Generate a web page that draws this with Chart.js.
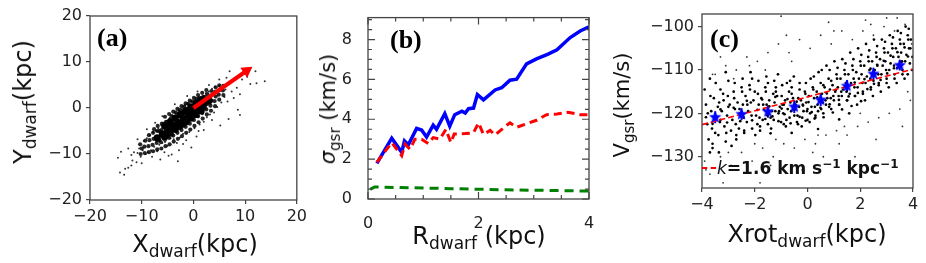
<!DOCTYPE html>
<html>
<head>
<meta charset="utf-8">
<script src="https://cdn.jsdelivr.net/npm/chart.js@4.4.1/dist/chart.umd.min.js"></script>
<style>
body{margin:0;background:#fff;font-family:"DejaVu Sans",sans-serif}
#fig{position:relative;width:926px;height:263px;overflow:hidden}
canvas{position:absolute;top:0}
.lab{position:absolute;font-size:24px;color:#111;white-space:nowrap;transform:translate(-50%,-50%)}
.lab sub{font-size:17px;vertical-align:-5px;line-height:0}
.sm{font-size:21px}
.sm sub{font-size:15px}
.rot{transform:translate(-50%,-50%) rotate(-90deg)}
.pan{position:absolute;font-family:"Liberation Serif",serif;font-weight:bold;font-size:26px;color:#000;line-height:1}
#leg{position:absolute;left:717px;top:168px;transform:translateY(-50%);font-size:17px;color:#111;white-space:nowrap}
#leg sup{font-size:12px;vertical-align:6px;line-height:0}
#legline{position:absolute;left:702px;top:167px;width:14px;border-top:2px dashed #ff0000}
</style>
</head>
<body>
<div id="fig">
  <canvas id="ca" width="310" height="263" style="left:0"></canvas>
  <canvas id="cb" width="300" height="263" style="left:310px"></canvas>
  <canvas id="cc" width="316" height="263" style="left:610px"></canvas>

  <div class="lab rot" style="left:23px;top:102px">Y<sub>dwarf</sub>(kpc)</div>
  <div class="lab" style="left:195px;top:244px">X<sub>dwarf</sub>(kpc)</div>
  <div class="lab sm rot" style="left:328px;top:109px"><i>σ</i><sub>gsr</sub> (km/s)</div>
  <div class="lab" style="left:479px;top:236px">R<sub>dwarf</sub> (kpc)</div>
  <div class="lab sm rot" style="left:622px;top:105px">V<sub>gsr</sub>(km/s)</div>
  <div class="lab" style="left:807px;top:234px">Xrot<sub>dwarf</sub>(kpc)</div>

  <div class="pan" style="left:97px;top:25px">(a)</div>
  <div class="pan" style="left:390px;top:27px">(b)</div>
  <div class="pan" style="left:710px;top:26px">(c)</div>

  <div id="legline"></div>
  <div id="leg"><i style="font-weight:normal">k</i><b>=1.6 km s<sup>−1</sup> kpc<sup>−1</sup></b></div>
</div>

<script>
// ---- panel (a): stars of the dwarf in the x-y plane ----
const denseA = [[-6,-5.6],[-5,-4.8],[-4,-4],[-3,-3.2],[-2,-2.4],[-1,-1.6],[0,-0.8],[1,0],[2,0.8],[3,1.6],
  [-4.5,-5.4],[-3.5,-4.6],[-2.5,-3.8],[-1.5,-3],[-0.5,-2.2],[0.5,-1.4],[1.5,-0.6],
  [-4.5,-3],[-3.5,-2.2],[-2.5,-1.4],[-1.5,-0.6],[-0.5,0.2],[0.5,1],[1.5,1.8],[-7,-6.5],[-5.5,-6.2],[-5.5,-3.8]];
const coreA = [[-10.2,-10.0],[-10.0,-8.8],[-10.3,-7.9],[-9.4,-9.8],[-9.5,-8.4],[-9.3,-7.1],
  [-8.6,-9.6],[-8.7,-8.3],[-8.5,-7.0],[-8.6,-5.9],[-7.8,-9.4],[-7.9,-8.0],[-7.7,-6.7],[-7.8,-5.4],[-7.6,-4.6],
  [-7.0,-9.0],[-7.1,-7.6],[-6.9,-6.3],[-7.0,-5.0],[-6.9,-3.9],[-6.2,-8.8],[-6.3,-7.4],[-6.1,-6.1],[-6.2,-4.8],[-6.1,-3.4],
  [-5.4,-8.3],[-5.5,-6.9],[-5.3,-5.6],[-5.4,-4.3],[-5.3,-3.0],[-5.5,-1.9],
  [-4.6,-7.9],[-4.7,-6.5],[-4.5,-5.2],[-4.6,-3.9],[-4.5,-2.6],[-4.7,-1.3],
  [-3.8,-7.3],[-3.9,-6.0],[-3.7,-4.7],[-3.8,-3.4],[-3.7,-2.1],[-3.9,-0.8],
  [-3.0,-6.7],[-3.1,-5.4],[-2.9,-4.1],[-3.0,-2.8],[-2.9,-1.5],[-3.1,-0.2],
  [-2.2,-6.1],[-2.3,-4.8],[-2.1,-3.5],[-2.2,-2.2],[-2.1,-0.9],[-2.3,0.4],
  [-1.4,-5.4],[-1.5,-4.1],[-1.3,-2.8],[-1.4,-1.5],[-1.3,-0.2],[-1.5,1.0],
  [-0.6,-4.7],[-0.7,-3.4],[-0.5,-2.1],[-0.6,-0.8],[-0.5,0.5],[-0.7,1.6],
  [0.2,-3.9],[0.1,-2.6],[0.3,-1.3],[0.2,0.0],[0.3,1.2],[0.1,2.2],
  [1.0,-3.1],[0.9,-1.8],[1.1,-0.6],[1.0,0.6],[1.1,1.8],[0.9,2.8],
  [1.8,-2.3],[1.7,-1.1],[1.9,0.1],[1.8,1.3],[1.9,2.4],[1.7,3.3],
  [2.6,-1.4],[2.5,-0.3],[2.7,0.9],[2.6,2.0],[2.7,3.0],[2.5,3.9],
  [3.4,-0.6],[3.3,0.5],[3.5,1.6],[3.4,2.7],[3.5,3.7],[4.2,0.4],[4.1,1.5],[4.3,2.5],[4.2,3.5],[4.3,4.5],
  [5.0,1.8],[4.9,2.9],[5.1,3.9],[5.0,4.9],[5.8,2.8],[5.7,3.8],[5.9,4.8],
  [-4.2,-5.8],[-4.2,-3.2],[-4.2,-1.8],[-3.4,-5.0],[-3.4,-2.4],[-3.4,-1.0],[-2.6,-4.4],[-2.6,-1.8],[-2.6,-0.4],
  [-1.8,-3.8],[-1.8,-1.2],[-1.8,0.3],[-1.0,-3.0],[-1.0,-0.6],[-1.0,0.9],[-0.2,-2.4],[-0.2,0.1],[-0.2,1.4],
  [0.6,-1.6],[0.6,0.8],[0.6,2.0],[1.4,-0.8],[1.4,1.4],[2.2,0.0],[2.2,2.4],[-5.0,-6.2],[-5.0,-3.6],
  [-5.8,-6.6],[-5.8,-4.2],[-6.6,-7.0],[-6.6,-5.0]];
const haloA = [[-14.2,-14],[-13.4,-14.5],[-13.2,-13.2],[-14,-9.5],[-12,-12.5],[-11.8,-11.4],[-12,-10.2],[-11.5,-9.6],
  [-11,-11.8],[-10.8,-9.8],[-10.5,-8.8],[-10.2,-10.6],[-10,-12.0],[-9.8,-9.2],[-9.6,-7.2],[-9.2,-10],[-9,-6.6],
  [-8.8,-9.6],[-8.4,-5.8],[-8.2,-9.2],[-8,-10.6],[-7.8,-5.2],[-7.6,-8.4],[-7.2,-5],[-7,-9.4],[-6.8,-4.4],[-6.6,-8.0],
  [-6.2,-3.8],[-6,-7.6],[-5.8,-3.2],[-5.5,-7.4],[-5.2,-2.8],[-5,-8.2],[-4.6,-2.2],[-4.4,-6.6],[-4.1,-1.6],[-3.8,-6.8],
  [-3.4,-1.2],[-3.2,-7.6],[-2.8,-0.6],[-2.6,-6.4],[-2.2,-0.2],[-2,-5.6],[-1.6,0.6],[-1.4,-7.0],[-1,0.8],[-0.8,-5.2],
  [-0.4,1.4],[0.2,-4.4],[0.4,1.8],[0.6,-6.2],[1,2.4],[1.2,-3.6],[1.6,2.2],[2,-3.0],[2.4,3.2],[2.6,-2.0],[3,3.6],
  [3.2,-1.4],[3.6,4.2],[4,-1.0],[4.2,4.6],[4.6,0.2],[5,4.8],[5.4,1.2],[5.6,5.0],[6,2.4],[6.2,4.0],[6.6,1.4],[7,5.6],
  [7,8],[7.4,3.6],[7.8,2.2],[8,6.2],[8.4,4.4],[9,-1.5],[9,3],[9.4,6.2],[9.8,7.4],[10.4,6.8],[11,5.2],[12,8],
  [12.2,5.4],[13.8,5.8],[8.6,-0.4],[6.8,-2.4],[5.2,-3.8],[2,-4.8],[-0.4,-8.6],[-2.8,-9.2],[-3,-11.6],[-4.2,-10.1],
  [-4.8,-10.4],[-6.4,-11.2],[-12.6,-13],[-14.6,-10.8],[-12.6,-8.8],[-6.0,-1.8],[-7.4,-3.2],[-3.6,0.8],[-1.2,2.6],
  [0.8,3.6],[3.0,5.0],[5.0,6.2],[6.4,6.6],[-9.0,-4.6],[-10.8,-6.8],[1.0,-5.0],[3.6,-2.6],[-2.0,-7.8],[-5.6,-9.6]];
const arrowFrom = [0, 0];
const arrowTo = [10.3, 8.1];
const ticksA = [-20, -10, 0, 10, 20];

// ---- panel (b): velocity dispersion vs radius ----
const blueR   = [0.16,0.43,0.61,0.66,0.73,0.88,0.97,1.06,1.18,1.24,1.39,1.48,1.57,1.70,1.76,1.82,1.91,1.98,2.09,2.30,2.42,2.57,2.69,2.87,3.05,3.26,3.42,3.66,3.84,4.0];
const blueSig = [1.79,3.05,2.34,2.91,2.72,3.54,3.46,3.11,3.70,3.49,4.28,3.65,4.23,4.40,4.31,4.53,4.56,5.24,4.97,5.47,5.58,5.96,6.01,6.78,7.03,7.27,7.49,8.10,8.43,8.64];
const redR    = [0.16,0.43,0.61,0.67,0.76,0.85,0.97,1.09,1.18,1.30,1.41,1.50,1.56,1.76,1.91,2.0,2.09,2.21,2.30,2.51,2.57,2.69,3.05,3.23,3.42,3.62,3.84,4.0];
const redSig  = [1.84,2.83,2.17,2.75,2.50,3.00,3.00,2.78,3.08,3.00,3.49,2.83,3.26,3.28,3.32,3.82,3.24,3.44,3.21,3.70,3.82,3.60,3.95,4.23,4.26,4.35,4.23,4.23];
const greenR   = [0.04,0.12,0.5,1.0,1.5,2.0,2.5,3.0,3.5,4.0];
const greenSig = [0.48,0.60,0.58,0.55,0.52,0.49,0.46,0.44,0.42,0.40];
const ticksBx = [0, 0.5, 1, 1.5, 2, 2.5, 3, 3.5, 4];
const ticksBy = [0, 0.5, 1, 1.5, 2, 2.5, 3, 3.5, 4, 4.5, 5, 5.5, 6, 6.5, 7, 7.5, 8, 8.5, 9];
const majorB = [0, 2, 4, 6, 8];

// ---- panel (c): velocity vs rotated x ----
const coreC = [[-3.85,-118],[-3.8,-122.5],[-3.75,-126],[-3.9,-114.5],[-3.7,-129],[-3.78,-120],
  [-3.55,-116.5],[-3.45,-121],[-3.5,-124.5],[-3.4,-118.5],[-3.6,-127],[-3.48,-113],
  [-3.25,-119.5],[-3.15,-123],[-3.2,-115.5],[-3.1,-126.5],[-3.3,-121.5],[-3.18,-117],
  [-2.95,-118],[-2.85,-121.5],[-2.9,-124],[-2.8,-115],[-3.0,-112.5],[-2.88,-127.5],
  [-2.65,-117.5],[-2.55,-120],[-2.6,-123.5],[-2.5,-114],[-2.7,-125],[-2.58,-119],
  [-2.35,-116],[-2.25,-119.5],[-2.3,-122],[-2.2,-113.5],[-2.4,-124.5],[-2.28,-118],
  [-2.05,-117],[-1.95,-120.5],[-2.0,-115],[-1.9,-122.5],[-2.1,-112],[-1.98,-125],
  [-1.75,-116.5],[-1.65,-119],[-1.7,-121.5],[-1.6,-114],[-1.8,-123],[-1.68,-118],
  [-1.45,-117],[-1.35,-119.5],[-1.4,-121],[-1.3,-115.5],[-1.5,-113],[-1.38,-123.5],
  [-1.15,-116],[-1.05,-118.5],[-1.1,-120],[-1.0,-122],[-1.2,-114],[-1.08,-119.5],[-1.12,-111],
  [-0.85,-117],[-0.75,-119],[-0.8,-121.5],[-0.7,-115],[-0.9,-118],[-0.78,-113],[-0.82,-123],
  [-0.55,-116.5],[-0.45,-118],[-0.5,-120.5],[-0.4,-122],[-0.6,-114],[-0.48,-119],[-0.52,-111.5],
  [-0.25,-117],[-0.15,-119.5],[-0.2,-121],[-0.1,-115],[-0.3,-113],[-0.18,-118],[-0.22,-123],
  [0.05,-116],[0.15,-118.5],[0.1,-120],[0.2,-114],[0.0,-119],[0.12,-112],[0.08,-122],
  [0.35,-115],[0.45,-117],[0.4,-119.5],[0.5,-113],[0.3,-121],[0.42,-110.5],[0.38,-118],
  [0.65,-114],[0.75,-116.5],[0.7,-118],[0.8,-112],[0.6,-120],[0.72,-109],[0.68,-117],
  [0.95,-113.5],[1.05,-115],[1.0,-117],[1.1,-111],[0.9,-119],[1.02,-108],[0.98,-116],
  [1.25,-112],[1.35,-114.5],[1.3,-116],[1.4,-110],[1.2,-118],[1.32,-107.5],[1.28,-115],
  [1.55,-111],[1.65,-113],[1.6,-115.5],[1.7,-109],[1.5,-117],[1.62,-106],[1.58,-120],
  [1.85,-110.5],[1.95,-112],[1.9,-114],[2.0,-108],[1.8,-116],[1.92,-105],[1.88,-118],
  [2.15,-109],[2.25,-111.5],[2.2,-113],[2.3,-107],[2.1,-115],[2.22,-104],[2.18,-117],
  [2.45,-108],[2.55,-110],[2.5,-112.5],[2.6,-106],[2.4,-114],[2.52,-103],[2.48,-116],
  [2.75,-107.5],[2.85,-109],[2.8,-111],[2.9,-105],[2.7,-113],[2.82,-103],[2.78,-115],
  [3.05,-106],[3.15,-108.5],[3.1,-110],[3.2,-104],[3.0,-112],[3.12,-102],[3.08,-114],
  [3.35,-105],[3.45,-107],[3.4,-109.5],[3.5,-103],[3.3,-111],[3.42,-101],[3.38,-113],
  [3.65,-104],[3.75,-106.5],[3.7,-108],[3.8,-102],[3.6,-110],[3.72,-100],[3.68,-112],
  [3.92,-103],[3.98,-107],[3.9,-105],[3.96,-110]];
const coreC2 = [[-3.65,-119.5],[-3.62,-123.5],[-3.68,-116],[-3.6,-128],[-3.7,-112],
  [-3.35,-117.5],[-3.32,-122],[-3.38,-125],[-3.3,-114.5],[-3.36,-129],
  [-3.05,-120.5],[-3.02,-116],[-3.08,-124.5],[-3.0,-118.5],[-3.1,-110.5],
  [-2.75,-119],[-2.72,-122.5],[-2.78,-116.5],[-2.7,-126],[-2.76,-113],
  [-2.45,-118],[-2.42,-121],[-2.48,-115],[-2.4,-124],[-2.46,-112],
  [-2.15,-117.5],[-2.12,-120.5],[-2.18,-114.5],[-2.1,-123.5],[-2.16,-110.5],
  [-1.85,-118],[-1.82,-121],[-1.88,-115.5],[-1.8,-124],[-1.86,-112.5],
  [-1.55,-118],[-1.52,-120.5],[-1.58,-115],[-1.5,-122.5],[-1.56,-111.5],
  [-1.25,-117.5],[-1.22,-119.5],[-1.28,-121.5],[-1.2,-115],[-1.26,-112.5],
  [-0.95,-118],[-0.92,-120],[-0.98,-116],[-0.9,-122.5],[-0.96,-113.5],
  [-0.65,-117.5],[-0.62,-119.5],[-0.68,-121],[-0.6,-115.5],[-0.66,-112.5],
  [-0.35,-116.5],[-0.32,-118.5],[-0.38,-120.5],[-0.3,-114.5],[-0.36,-122.5],
  [-0.05,-117.5],[-0.02,-119.5],[-0.08,-115.5],[0.0,-121.5],[-0.06,-113],
  [0.25,-116.5],[0.28,-118.5],[0.22,-114.5],[0.3,-120.5],[0.24,-111.5],
  [0.55,-115.5],[0.58,-117.5],[0.52,-119],[0.6,-113.5],[0.54,-110],
  [0.85,-114.5],[0.88,-116.5],[0.82,-118.5],[0.9,-112.5],[0.84,-110],
  [1.15,-114],[1.18,-116],[1.12,-112],[1.2,-118],[1.14,-109.5],
  [1.45,-113],[1.48,-115],[1.42,-111],[1.5,-117],[1.44,-108.5],
  [1.75,-112],[1.78,-114],[1.72,-110],[1.8,-116],[1.74,-107.5],
  [2.05,-111],[2.08,-113],[2.02,-109],[2.1,-115.5],[2.04,-106.5],
  [2.35,-110],[2.38,-112],[2.32,-108],[2.4,-114.5],[2.34,-105.5],
  [2.65,-109],[2.68,-111],[2.62,-107],[2.7,-113.5],[2.64,-104.5],
  [2.95,-108],[2.98,-110],[2.92,-106],[3.0,-113],[2.94,-103.5],
  [3.25,-107],[3.28,-109],[3.22,-105],[3.3,-112],[3.24,-102.5],
  [3.55,-106],[3.58,-108],[3.52,-104],[3.6,-111],[3.54,-101.5],
  [3.85,-105],[3.88,-108.5],[3.82,-103],[3.8,-111],[3.84,-100.5]];
const coreC3 = [[-1.9,-119.2],[-1.72,-116.8],[-1.6,-121.3],[-1.45,-118.4],[-1.33,-120.7],[-1.22,-116.2],[-1.1,-121.8],
  [-0.98,-118.9],[-0.87,-120.2],[-0.76,-116.7],[-0.64,-122.3],[-0.53,-119.1],[-0.41,-117.3],[-0.3,-120.8],[-0.17,-118.2],
  [-0.07,-121.7],[0.04,-117.4],[0.16,-119.7],[0.27,-121.2],[0.37,-116.3],[0.49,-118.7],[0.61,-120.9],[0.73,-115.4],
  [0.84,-117.9],[0.96,-119.8],[1.07,-114.6],[1.19,-116.9],[1.31,-119.1],[1.43,-113.8],[1.56,-116.1],[1.67,-118.3],
  [1.79,-112.9],[1.91,-115.3],[2.03,-117.2],[2.16,-112.1],[2.27,-114.4],[2.39,-109.7],[2.52,-113.2],[2.64,-108.8],
  [2.77,-112.3],[2.89,-107.9],[3.02,-110.8],[3.15,-106.7],[3.28,-109.6],[3.41,-105.9],[3.55,-108.2],[3.68,-104.8],
  [3.81,-106.9],[-2.1,-121.6],[-2.3,-117.1],[-2.55,-121.8],[-2.8,-118.7],[-3.05,-122.1],[-3.3,-119.1],[-3.6,-122.4],
  [-3.85,-120.9],[-0.6,-124.5],[0.4,-123.6],[1.2,-121.4],[-1.4,-124.6]];
const haloC = [[-3.9,-131],[-3.7,-134],[-3.5,-111],[-3.3,-130],[-3.1,-109],[-2.9,-132],[-2.7,-110],[-2.5,-129],
  [-2.3,-107],[-2.1,-131],[-1.9,-108],[-1.7,-128],[-1.5,-106],[-1.3,-130],[-1.1,-104],[-0.9,-127],[-0.7,-106],
  [-0.5,-128],[-0.3,-103],[-0.1,-126],[0.1,-105],[0.3,-127],[0.5,-102],[0.7,-125],[0.9,-104],[1.1,-124],[1.3,-101],
  [1.5,-125],[1.7,-103],[1.9,-123],[2.1,-101],[2.3,-122],[2.5,-102],[2.7,-121],[2.9,-100],[3.1,-120],[3.3,-101],
  [3.5,-119],[3.7,-99.5],[3.9,-117],[3.95,-104],[-3.2,-136],[-1.8,-136],[2.2,-98.5],[3.4,-98],[-3.6,-111],
  [-2.2,-109],[0.8,-99],[1.8,-130],[-0.2,-133],[0.6,-130],[2.6,-126],[3.6,-123],[-1.0,-97.6],[-3.85,-133],
  [-2.6,-133],[-1.4,-132],[0.2,-129],[1.2,-127],[-0.6,-108],[-1.6,-110],[-2.8,-112],[-3.3,-107],[2.4,-99.5],
  [1.0,-101],[-0.8,-102],[3.0,-98],[3.8,-115],[2.0,-120],[-3.0,-129],[-2.0,-127],[-1.2,-126],[0.4,-125],[1.4,-123]];
const starX   = [-3.5,-2.5,-1.5,-0.5,0.5,1.5,2.5,3.5];
const starV   = [-120.9,-120.2,-119.6,-118.5,-116.9,-113.7,-110.9,-108.9];
const starErr = [1.4,1.4,1.4,1.4,1.4,1.4,1.4,1.2];
const fitX = [-4, 4];
const fitV = [-122.6, -109.8];
const ticksCx = [-4, -2, 0, 2, 4];
const ticksCy = [-130, -120, -110, -100];

const minus = v => String(v).replace('-', '\u2212');
const tickFont = {family: 'DejaVu Sans', size: 16};
const tickColor = '#222';

const frame = {
  id: 'frame',
  afterDatasetsDraw(chart) {
    const {ctx, chartArea: a} = chart;
    ctx.save();
    ctx.strokeStyle = '#444';
    ctx.lineWidth = 1.3;
    ctx.strokeRect(a.left, a.top, a.right - a.left, a.bottom - a.top);
    ctx.restore();
  }
};

// inward ticks on all four sides (panel b)
const inTicks = {
  id: 'inTicks',
  afterDatasetsDraw(chart) {
    const {ctx, chartArea: a, scales: {x, y}} = chart;
    ctx.save();
    ctx.strokeStyle = '#444';
    ctx.lineWidth = 1.2;
    ctx.beginPath();
    x.ticks.forEach(t => {
      const p = x.getPixelForValue(t.value), L = majorB.includes(t.value) ? 7 : 4;
      ctx.moveTo(p, a.bottom); ctx.lineTo(p, a.bottom - L);
      ctx.moveTo(p, a.top); ctx.lineTo(p, a.top + L);
    });
    y.ticks.forEach(t => {
      const p = y.getPixelForValue(t.value), L = majorB.includes(t.value) ? 7 : 4;
      ctx.moveTo(a.left, p); ctx.lineTo(a.left + L, p);
      ctx.moveTo(a.right, p); ctx.lineTo(a.right - L, p);
    });
    ctx.stroke();
    ctx.restore();
  }
};

const errBars = {
  id: 'errBars',
  beforeDatasetsDraw(chart) {
    const {ctx, scales: {x, y}} = chart;
    ctx.save();
    ctx.strokeStyle = '#0000ff';
    ctx.lineWidth = 2;
    ctx.beginPath();
    starX.forEach((sx, i) => {
      const px = x.getPixelForValue(sx);
      ctx.moveTo(px, y.getPixelForValue(starV[i] - starErr[i]));
      ctx.lineTo(px, y.getPixelForValue(starV[i] + starErr[i]));
    });
    ctx.stroke();
    ctx.restore();
  }
};

function starImg(r, color) {
  const c = document.createElement('canvas');
  c.width = c.height = 2 * r + 2;
  const g = c.getContext('2d');
  g.fillStyle = color;
  g.beginPath();
  for (let i = 0; i < 10; i++) {
    const ang = -Math.PI / 2 + i * Math.PI / 5;
    const rr = i % 2 ? r * 0.45 : r;
    g.lineTo(r + 1 + rr * Math.cos(ang), r + 1 + rr * Math.sin(ang));
  }
  g.closePath();
  g.fill();
  return c;
}

function axis(min, max, vals, size, horizontal, opts) {
  const s = {
    type: 'linear', min: min, max: max,
    afterBuildTicks: sc => { sc.ticks = vals.map(v => ({value: v})); },
    ticks: {autoSkip: false, font: tickFont, color: tickColor, padding: horizontal ? 3 : 4, maxRotation: 0, callback: minus},
    grid: {drawOnChartArea: false, drawTicks: true, tickLength: 4, color: '#444', lineWidth: 1.2},
    border: {display: false}
  };
  s.afterFit = horizontal ? (sc => { sc.height = size; }) : (sc => { sc.width = size; });
  if (opts) {
    Object.assign(s.ticks, opts.ticks || {});
    if (opts.grid) s.grid = opts.grid;
  }
  return s;
}

const base = {
  responsive: false, animation: false,
  plugins: {legend: {display: false}, tooltip: {enabled: false}},
};
const pts = arr => arr.map(p => ({x: p[0], y: p[1]}));

// (a)
new Chart(document.getElementById('ca'), {
  type: 'scatter',
  data: {datasets: [
    {data: [{x: arrowFrom[0], y: arrowFrom[1]}, {x: arrowTo[0], y: arrowTo[1]}], type: 'line', showLine: true,
     borderColor: '#ff0000', borderWidth: 4, backgroundColor: '#ff0000', pointStyle: 'triangle',
     pointRadius: [0, 7], pointRotation: 55.6, pointBorderWidth: 0, order: 0},
    {data: pts(denseA), pointRadius: 3.6, backgroundColor: '#000', borderWidth: 0, order: 1},
    {data: pts(coreA), pointRadius: 2.1, backgroundColor: 'rgba(0,0,0,0.85)', borderWidth: 0, order: 2},
    {data: pts(haloA), pointRadius: 1, backgroundColor: 'rgba(0,0,0,0.8)', borderWidth: 0, order: 3}
  ]},
  options: Object.assign({}, base, {
    layout: {padding: {top: 16, right: 8, left: 0, bottom: 0}, autoPadding: false},
    scales: {x: axis(-20, 20, ticksA, 63, true), y: axis(-20, 20, ticksA, 90, false)}
  }),
  plugins: [frame]
});

// (b)
const labelMajor = v => majorB.includes(v) ? minus(v) : '';
new Chart(document.getElementById('cb'), {
  type: 'line',
  data: {datasets: [
    {data: redR.map((r, i) => ({x: r, y: redSig[i]})), borderColor: '#ff0000', borderWidth: 3, borderDash: [8, 5], order: 0},
    {data: blueR.map((r, i) => ({x: r, y: blueSig[i]})), borderColor: '#0000ff', borderWidth: 3.5, order: 1},
    {data: greenR.map((r, i) => ({x: r, y: greenSig[i]})), borderColor: '#008000', borderWidth: 3, borderDash: [9, 6], order: 2}
  ]},
  options: Object.assign({}, base, {
    elements: {point: {radius: 0}, line: {tension: 0}},
    layout: {padding: {top: 15, right: 21, left: 0, bottom: 0}, autoPadding: false},
    scales: {
      x: axis(0, 4, ticksBx, 64, true, {ticks: {padding: 7, callback: labelMajor}, grid: {display: false}}),
      y: axis(0, 9.1, ticksBy, 58, false, {ticks: {padding: 8, callback: labelMajor}, grid: {display: false}})
    }
  }),
  plugins: [frame, inTicks]
});

// (c)
new Chart(document.getElementById('cc'), {
  type: 'scatter',
  data: {datasets: [
    {data: starX.map((x, i) => ({x: x, y: starV[i]})), pointStyle: starImg(6.5, '#0000ff'), order: 0},
    {data: fitX.map((x, i) => ({x: x, y: fitV[i]})), type: 'line', showLine: true, borderColor: '#ff0000',
     borderWidth: 1.6, borderDash: [6, 3], pointRadius: 0, order: 1},
    {data: pts(coreC.concat(coreC2, coreC3)), pointRadius: 1.35, backgroundColor: '#000', borderWidth: 0, order: 2},
    {data: pts(haloC), pointRadius: 0.9, backgroundColor: 'rgba(0,0,0,0.8)', borderWidth: 0, order: 3}
  ]},
  options: Object.assign({}, base, {
    layout: {padding: {top: 14, right: 13, left: 0, bottom: 0}, autoPadding: false},
    scales: {x: axis(-4, 4, ticksCx, 75, true), y: axis(-137.2, -97.1, ticksCy, 92, false)}
  }),
  plugins: [errBars, frame]
});
</script>
</body>
</html>
